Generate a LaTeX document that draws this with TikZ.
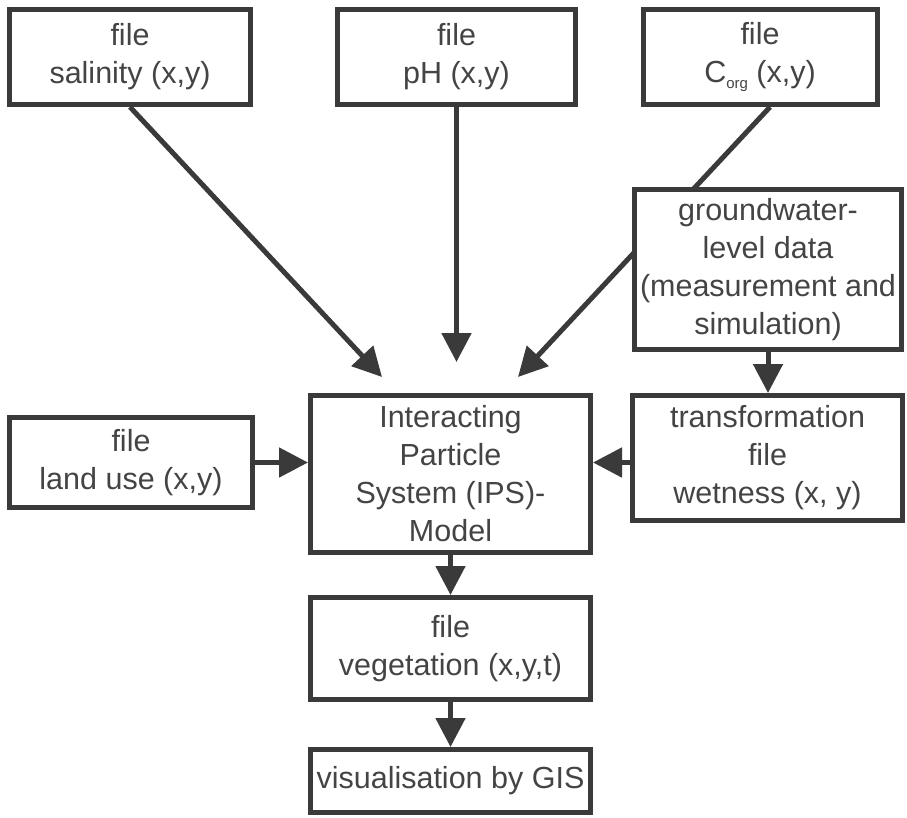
\documentclass[tikz,border=0pt]{standalone}
\usepackage{fontspec}
\setmainfont{Liberation Sans}
\usepackage{xcolor}
\usetikzlibrary{arrows.meta,calc}

\definecolor{linegray}{HTML}{3A3A3A}
\definecolor{textgray}{HTML}{444444}

\begin{document}
\begin{tikzpicture}[
  x=1pt, y=-1pt,
  every node/.style={font=\fontsize{30.5}{38}\selectfont, text=textgray},
  box/.style={draw=linegray, line width=5pt, fill=white, align=center, inner sep=1pt},
  flow/.style={draw=linegray, line width=5pt, -{Triangle[length=29pt,width=29pt]}}
]
% Scale: 1 unit = 1 px of the 907x817 original
\useasboundingbox (0,0) rectangle (907,817);

%% --- Input files (top row) -----------------------------------
\node[box, minimum width=241pt, minimum height=95pt] (sal) at (130,57)
     {file\\salinity (x,y)};
\node[box, minimum width=238pt, minimum height=95pt] (ph) at (456.5,57)
     {file\\pH (x,y)};
\node[box, minimum width=234pt, minimum height=95pt] (corg) at (760,57)
     {file\\C\raisebox{-0.35ex}{\fontsize{15}{15}\selectfont org} (x,y)};

%% --- Model and outputs ---------------------------------------
\node[box, minimum width=280pt, minimum height=157pt] (ips) at (450.5,474)
     {Interacting\\Particle\\System (IPS)-\\Model};
\node[box, minimum width=243pt, minimum height=90pt] (land) at (131,462.5)
     {file\\land use (x,y)};
\node[box, minimum width=280pt, minimum height=102pt] (veg) at (450.5,648.5)
     {file\\vegetation (x,y,t)};
\node[box, minimum width=280pt, minimum height=63pt] (gis) at (450.5,781)
     {visualisation by GIS};

%% --- Free ends of the three top arrows -----------------------
\coordinate (salend)  at (382,377);
\coordinate (phend)   at (456.5,362);
\coordinate (corgend) at (518,377);

% C_org line runs behind the groundwater box, so draw it first
\draw[flow] ($(corg.south)+(10,0)$) -- (corgend);

%% --- Groundwater branch (right) ------------------------------
\node[box, minimum width=267pt, minimum height=160pt] (gw) at (768,269.5)
     {groundwater-\\level data\\(measurement and\\simulation)};
\node[box, minimum width=270pt, minimum height=125pt] (trans) at (767.5,458)
     {transformation\\file\\wetness (x, y)};

%% --- Connectors ----------------------------------------------
\draw[flow] (sal.south) -- (salend);
\draw[flow] (ph.south) -- (phend);
\draw[flow] (gw.south) -- (gw.south |- trans.north);
\draw[flow] (land.east) -- (land.east -| ips.west);
\draw[flow] (trans.west |- land.east) -- (ips.east |- land.east);
\draw[flow] (ips.south) -- (veg.north);
\draw[flow] (veg.south) -- (gis.north);

\end{tikzpicture}
\end{document}
